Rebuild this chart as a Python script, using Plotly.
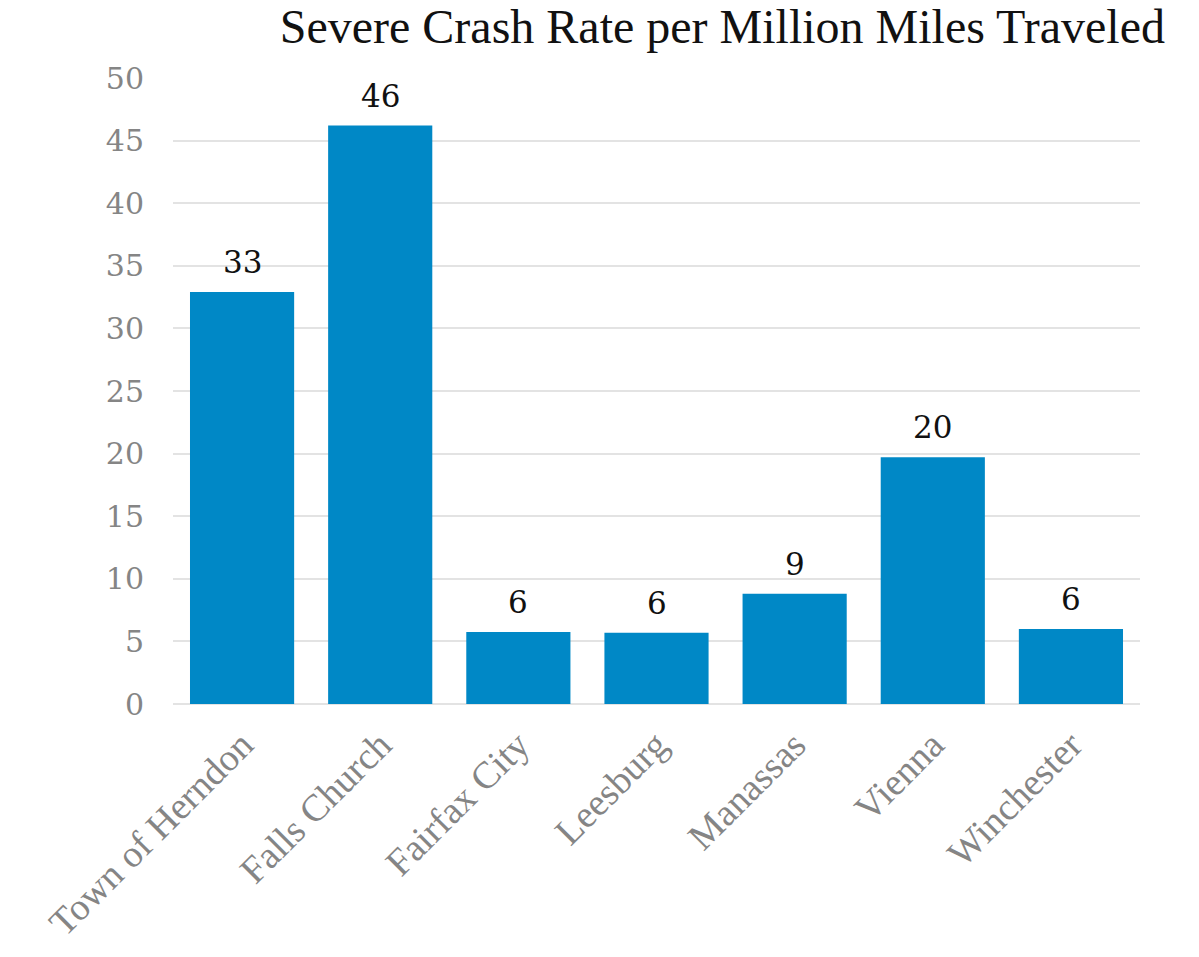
import plotly.graph_objects as go

# Severe crash rate per million miles traveled, by locality
localities = ["Town of Herndon", "Falls Church", "Fairfax City", "Leesburg",
              "Manassas", "Vienna", "Winchester"]
crash_rate = [32.9, 46.2, 5.75, 5.7, 8.8, 19.7, 6.0]
y_ticks = [0, 5, 10, 15, 20, 25, 30, 35, 40, 45, 50]

fig = go.Figure(
    go.Bar(
        x=localities,
        y=crash_rate,
        marker=dict(color="#0088C6", line=dict(width=0)),
        hoverinfo="skip",
    )
)

# value labels above each bar
for name, val in zip(localities, crash_rate):
    fig.add_annotation(
        x=name, y=val, text=f"{val:.0f}",
        showarrow=False, yanchor="bottom", yshift=10,
        font=dict(family="DejaVu Serif", size=31, color="#111111"),
    )

fig.update_layout(
    width=1199,
    height=957,
    margin=dict(l=173, r=59, t=78, b=253),
    paper_bgcolor="white",
    plot_bgcolor="white",
    bargap=0.246,
    showlegend=False,
    title=dict(
        text="Severe Crash Rate per Million Miles Traveled",
        font=dict(family="Liberation Serif", size=48, color="#111111"),
        x=0.9716, xanchor="right", xref="container",
        y=0.973, yanchor="middle", yref="container",
    ),
    xaxis=dict(
        tickangle=-45,
        tickfont=dict(family="Liberation Serif", size=38, color="#858585"),
        showgrid=False,
        showline=False,
        ticks="",
        ticklabelstandoff=10,
        automargin=False,
    ),
    yaxis=dict(
        range=[0, 50],
        tickvals=y_ticks,
        tickfont=dict(family="DejaVu Serif", size=30, color="#858585"),
        showgrid=True,
        gridcolor="#E3E3E3",
        gridwidth=2,
        zeroline=True,
        zerolinecolor="#E3E3E3",
        zerolinewidth=2,
        ticks="",
        ticklabelstandoff=28,
        automargin=False,
    ),
)

fig.write_html("out.html")
